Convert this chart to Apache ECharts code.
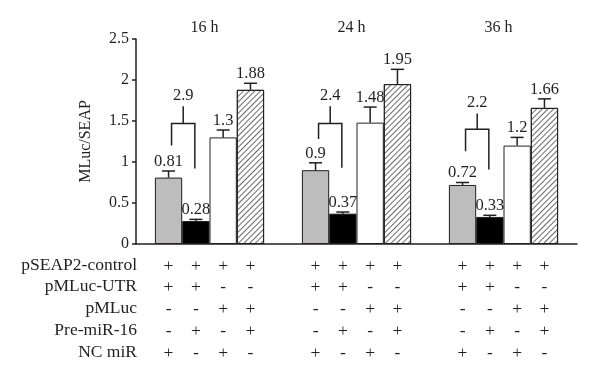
<!DOCTYPE html>
<html>
<head>
<meta charset="utf-8">
<script src="https://cdn.jsdelivr.net/npm/echarts@6/dist/echarts.min.js"></script>
<style>
  html, body { margin: 0; padding: 0; background: #fff; }
  #chart { width: 600px; height: 381px; }
</style>
</head>
<body>
<div id="chart"></div>
<script>
// time points (one group of 4 bars each)
const categories = ['16 h', '24 h', '36 h']

// bar values per condition
const ctrlUtrNc = [0.81, 0.9, 0.72]      // gray
const ctrlUtrMiR = [0.28, 0.37, 0.33]    // black
const ctrlLucNc = [1.3, 1.48, 1.2]       // white
const ctrlLucMiR = [1.88, 1.95, 1.66]    // hatched

// error bar (upper) size per condition
const errUtrNc = [0.08, 0.09, 0.03]
const errUtrMiR = [0.02, 0.02, 0.02]
const errLucNc = [0.09, 0.19, 0.10]
const errLucMiR = [0.08, 0.18, 0.11]

// fold-change brackets between gray and black bars
const ratioLabels = ['2.9', '2.4', '2.2']
const bracketLeft = [1.2, 1.28, 1.13]
const bracketRight = [0.92, 0.93, 0.91]
const bracketBar = [1.47, 1.47, 1.40]
const bracketStem = [1.68, 1.68, 1.59]

// y axis ticks
const yMin = 0
const yMax = 2.5
const yStep = 0.5

// transfection table under the chart
const tableRows = ['pSEAP2-control', 'pMLuc-UTR', 'pMLuc', 'Pre-miR-16', 'NC miR']
const tableMarks = [
    ['+', '+', '+', '+'],
    ['+', '+', '-', '-'],
    ['-', '-', '+', '+'],
    ['-', '+', '-', '+'],
    ['+', '-', '+', '-']
]

const font = 'Liberation Serif'
const ink = '#231f20'
const barW = 27.3

const values = [ctrlUtrNc, ctrlUtrMiR, ctrlLucNc, ctrlLucMiR]
const errs = [errUtrNc, errUtrMiR, errLucNc, errLucMiR]

const errData = []
values.forEach((arr, b) => arr.forEach((v, g) => errData.push([g, b, v, errs[b][g]])))

const bracketData = categories.map((_, g) => [g, bracketLeft[g], bracketRight[g], bracketBar[g], bracketStem[g], g])

const tableData = []
categories.forEach((_, g) => tableMarks.forEach((row, r) => row.forEach((m, b) => tableData.push([g, 0, b, r]))))

const myChart = echarts.init(document.getElementById('chart'))

const barStyle = (color) => ({
    color: color,
    borderColor: ink,
    borderWidth: 1
})

const option = {
    animation: false,
    textStyle: { fontFamily: font, color: ink },
    grid: { left: 136, right: 23, top: 39, bottom: 137 },
    xAxis: [
        {
            type: 'category',
            data: categories,
            position: 'bottom',
            axisLine: { lineStyle: { color: ink, width: 1.5 } },
            axisTick: { inside: true, length: 5, lineStyle: { color: ink, width: 1.5 } },
            axisLabel: { show: false }
        },
        {
            type: 'category',
            data: categories,
            position: 'top',
            axisLine: { show: false },
            axisTick: { show: false },
            axisLabel: {
                fontFamily: font, fontSize: 16, color: ink, margin: 3,
                formatter: (v) => '{a|' + v + '}',
                rich: { a: { fontFamily: font, fontSize: 16, color: ink, padding: [0, 10, 0, 0] } }
            }
        }
    ],
    yAxis: {
        type: 'value',
        min: yMin,
        max: yMax,
        interval: yStep,
        name: 'MLuc/SEAP',
        nameLocation: 'middle',
        nameGap: 42,
        nameTextStyle: { fontFamily: font, fontSize: 16, color: ink },
        splitLine: { show: false },
        axisLine: { show: true, lineStyle: { color: ink, width: 1.5 } },
        axisTick: { show: true, length: 4, lineStyle: { color: ink, width: 1.5 } },
        axisLabel: { fontFamily: font, fontSize: 16, color: ink, margin: 7 }
    },
    graphic: tableRows.map((name, r) => ({
        type: 'text',
        right: 600 - 137,
        top: 256 + r * 21.8,
        style: { text: name, font: '17.5px "' + font + '"', fill: ink, textAlign: 'right' }
    })),
    series: [
        { type: 'bar', data: ctrlUtrNc, barWidth: barW, barGap: '0%', itemStyle: barStyle('#bdbdbd') },
        { type: 'bar', data: ctrlUtrMiR, barWidth: barW, barGap: '0%', itemStyle: barStyle('#000') },
        { type: 'bar', data: ctrlLucNc, barWidth: barW, barGap: '0%', itemStyle: barStyle('#fff') },
        {
            type: 'bar', data: ctrlLucMiR, barWidth: barW, barGap: '0%',
            itemStyle: Object.assign(barStyle('#fff'), {
                decal: {
                    symbol: 'rect',
                    symbolSize: 1,
                    color: '#6a6a6a',
                    dashArrayX: [1, 0],
                    dashArrayY: [1, 2.6],
                    rotation: -Math.PI / 4
                }
            })
        },
        {
            // error bars with value labels
            type: 'custom',
            data: errData,
            encode: { x: 0, y: 2 },
            z: 5,
            renderItem: (params, api) => {
                const g = api.value(0), b = api.value(1), v = api.value(2), e = api.value(3)
                const base = api.coord([g, v])
                const top = api.coord([g, v + e])
                const x = base[0] + (b - 1.5) * barW
                const ls = { stroke: ink, lineWidth: 1.5 }
                return {
                    type: 'group',
                    children: [
                        { type: 'line', shape: { x1: x, y1: base[1], x2: x, y2: top[1] }, style: ls },
                        { type: 'line', shape: { x1: x - 6.5, y1: top[1], x2: x + 6.5, y2: top[1] }, style: ls },
                        {
                            type: 'text',
                            style: {
                                text: String(v), x: x, y: top[1] - 1,
                                textAlign: 'center', textVerticalAlign: 'bottom',
                                font: '16.5px "' + font + '"', fill: ink
                            }
                        }
                    ]
                }
            }
        },
        {
            // brackets with fold change
            type: 'custom',
            data: bracketData,
            encode: { x: 0, y: 3 },
            z: 5,
            renderItem: (params, api) => {
                const g = api.value(0)
                const c = api.coord([g, 0])[0]
                const xl = c - 1.5 * barW + 3
                const xr = c - 0.5 * barW - 1
                const xm = (xl + xr) / 2
                const yl = api.coord([g, api.value(1)])[1]
                const yr = api.coord([g, api.value(2)])[1]
                const yb = api.coord([g, api.value(3)])[1]
                const ys = api.coord([g, api.value(4)])[1]
                const ls = { stroke: ink, lineWidth: 1.5, fill: null }
                return {
                    type: 'group',
                    children: [
                        { type: 'polyline', shape: { points: [[xl, yl], [xl, yb], [xr, yb], [xr, yr]] }, style: ls },
                        { type: 'line', shape: { x1: xm, y1: yb, x2: xm, y2: ys }, style: ls },
                        {
                            type: 'text',
                            style: {
                                text: ratioLabels[api.value(5)], x: xm, y: ys - 2,
                                textAlign: 'center', textVerticalAlign: 'bottom',
                                font: '16.5px "' + font + '"', fill: ink
                            }
                        }
                    ]
                }
            }
        },
        {
            // +/- table below the axis
            type: 'custom',
            data: tableData,
            encode: { x: 0, y: 1 },
            renderItem: (params, api) => {
                const g = api.value(0), b = api.value(2), r = api.value(3)
                const p = api.coord([g, 0])
                return {
                    type: 'text',
                    style: {
                        text: tableMarks[r][b],
                        x: p[0] + (b - 1.5) * barW,
                        y: p[1] + 22 + r * 21.8,
                        textAlign: 'center', textVerticalAlign: 'middle',
                        font: '17.5px "' + font + '"', fill: ink
                    }
                }
            }
        }
    ]
}

myChart.setOption(option)
window.addEventListener('resize', function () {
    myChart.resize()
})
</script>
</body>
</html>
